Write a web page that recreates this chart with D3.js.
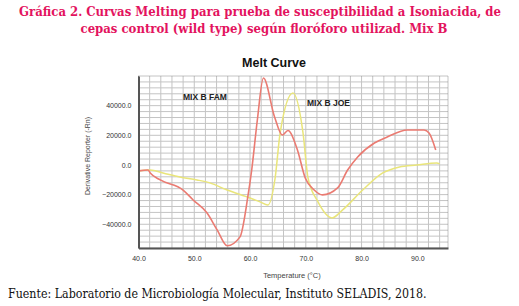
<!DOCTYPE html>
<html>
<head>
<meta charset="utf-8">
<script src="https://cdn.jsdelivr.net/npm/d3@7"></script>
<style>
  body { margin: 0; background: #fff; }
  svg { display: block; }
</style>
</head>
<body>
<div id="viz"></div>
<script>
// data
const famTemp = [40, 41.7, 42.1, 43.9, 48.0, 49.8, 52.3, 54.1, 55.9, 58.2, 59.6, 60.3, 61.3, 62.4, 64.4, 65.8, 66.8, 68.5, 69.9, 71.5, 73.0, 75.7, 77.5, 79.3, 82.3, 84.6, 88.2, 91.2, 92.1, 93.3];
const famVal = [-4000, -3400, -5400, -10100, -16900, -23600, -32400, -43800, -54500, -48500, -21600, -3400, 30000, 58700, 32400, 20200, 23200, 10100, -8800, -16900, -20200, -15500, -3400, 5400, 14800, 18900, 23600, 23600, 21600, 10100];

const joeTemp = [40, 42.1, 44.4, 47.4, 50.5, 52.8, 55.9, 60.0, 61.8, 63.2, 64.5, 65.4, 67.7, 69.5, 70.4, 72.0, 74.7, 76.6, 80.2, 83.8, 86.8, 89.9, 93.5, 94.0];
const joeVal = [-4000, -3400, -5400, -8100, -10100, -12100, -16900, -22300, -24900, -27000, -8800, 21600, 48500, 21600, -8800, -23600, -35700, -30300, -16900, -5400, -1300, 0, 1300, 700];

const xTicks = [40, 50, 60, 70, 80, 90];
const yTicks = [-40000, -20000, 0, 20000, 40000];

const w = 519;
const h = 306;
const pLeft = 138.5, pRight = 448, pTop = 76, pBottom = 248;

const svg = d3.select('#viz').append('svg')
  .attr('width', w)
  .attr('height', h);

// titles
const titleColor = '#e3135e';
svg.append('text')
  .attr('x', 260).attr('y', 16)
  .attr('text-anchor', 'middle')
  .attr('font-family', 'DejaVu Serif Condensed, DejaVu Serif')
  .attr('font-weight', 'bold')
  .attr('font-size', 13)
  .attr('fill', titleColor)
  .text('Gráfica 2. Curvas Melting para prueba de susceptibilidad a Isoniacida, de');
svg.append('text')
  .attr('x', 264).attr('y', 33)
  .attr('text-anchor', 'middle')
  .attr('font-family', 'DejaVu Serif Condensed, DejaVu Serif')
  .attr('font-weight', 'bold')
  .attr('font-size', 13)
  .attr('fill', titleColor)
  .text('cepas control (wild type) según floróforo utilizad. Mix B');

svg.append('text')
  .attr('x', 8).attr('y', 298)
  .attr('font-family', 'DejaVu Serif Condensed, DejaVu Serif')
  .attr('font-size', 12.3)
  .attr('fill', '#111')
  .text('Fuente: Laboratorio de Microbiología Molecular, Instituto SELADIS, 2018.');

const x = d3.scaleLinear().domain([40, 95.5]).range([pLeft, pRight]);
const y = d3.scaleLinear().domain([-56000, 60000]).range([pBottom, pTop]);

// grid
const grid = svg.append('g');
grid.selectAll('line.v')
  .data(d3.range(42, 95.5, 2))
  .enter().append('line')
  .attr('x1', d => x(d)).attr('x2', d => x(d))
  .attr('y1', pTop).attr('y2', pBottom)
  .attr('stroke', '#c4c4c4').attr('stroke-width', 1);
grid.selectAll('line.h')
  .data(d3.range(-52000, 60000, 4000))
  .enter().append('line')
  .attr('y1', d => y(d)).attr('y2', d => y(d))
  .attr('x1', pLeft).attr('x2', pRight)
  .attr('stroke', '#c4c4c4').attr('stroke-width', 1);

svg.append('rect')
  .attr('x', pLeft).attr('y', pTop)
  .attr('width', pRight - pLeft).attr('height', pBottom - pTop)
  .attr('fill', 'none')
  .attr('stroke', '#888')
  .attr('stroke-dasharray', '1,1');

// curves
const line = d3.line()
  .x(d => x(d[0]))
  .y(d => y(d[1]))
  .curve(d3.curveMonotoneX);

svg.append('path')
  .datum(joeTemp.map((t, i) => [t, joeVal[i]]))
  .attr('d', line)
  .attr('fill', 'none')
  .attr('stroke', '#e9e57a')
  .attr('stroke-width', 1.5);

svg.append('path')
  .datum(famTemp.map((t, i) => [t, famVal[i]]))
  .attr('d', line)
  .attr('fill', 'none')
  .attr('stroke', '#ea7b72')
  .attr('stroke-width', 1.6);

// axes
const xAxis = d3.axisBottom(x).tickValues(xTicks).tickSize(0).tickPadding(8).tickFormat(d3.format('.1f'));
const yAxis = d3.axisLeft(y).tickValues(yTicks).tickSize(0).tickPadding(7).tickFormat(d3.format('.1f'));

const gx = svg.append('g')
  .attr('transform', 'translate(0,' + pBottom + ')')
  .call(xAxis);
const gy = svg.append('g')
  .attr('transform', 'translate(' + pLeft + ',0)')
  .call(yAxis);

[gx, gy].forEach(g => {
  g.select('.domain').attr('stroke', '#555').attr('stroke-width', 2);
  g.selectAll('text')
    .attr('font-family', 'Liberation Sans, Arial')
    .attr('font-size', 7)
    .attr('fill', '#333');
});

svg.append('text')
  .attr('x', 274).attr('y', 67)
  .attr('text-anchor', 'middle')
  .attr('font-family', 'Liberation Sans, Arial')
  .attr('font-weight', 'bold')
  .attr('font-size', 12.5)
  .attr('fill', '#111')
  .text('Melt Curve');

svg.append('text')
  .attr('transform', 'translate(90,156) rotate(-90)')
  .attr('text-anchor', 'middle')
  .attr('font-family', 'Liberation Sans, Arial')
  .attr('font-size', 7)
  .attr('fill', '#444')
  .text('Derivative Reporter (-Rn)');

svg.append('text')
  .attr('x', 292).attr('y', 278)
  .attr('text-anchor', 'middle')
  .attr('font-family', 'Liberation Sans, Arial')
  .attr('font-size', 7.5)
  .attr('fill', '#444')
  .text('Temperature (°C)');

// series labels
svg.append('text')
  .attr('x', 183).attr('y', 100)
  .attr('font-family', 'Liberation Sans, Arial')
  .attr('font-weight', 'bold')
  .attr('font-size', 8.5)
  .attr('fill', '#222')
  .text('MIX B FAM');
svg.append('text')
  .attr('x', 307).attr('y', 106)
  .attr('font-family', 'Liberation Sans, Arial')
  .attr('font-weight', 'bold')
  .attr('font-size', 8.5)
  .attr('fill', '#222')
  .text('MIX B JOE');
</script>
</body>
</html>
